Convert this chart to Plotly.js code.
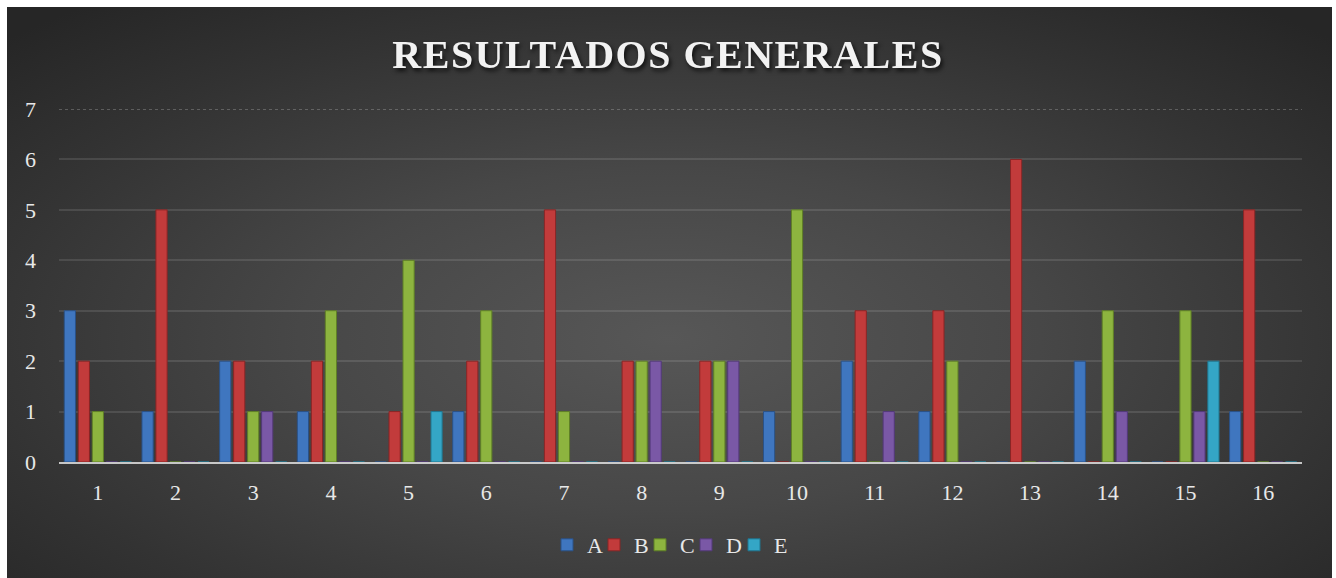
<!DOCTYPE html>
<html>
<head>
<meta charset="utf-8">
<script src="https://cdn.plot.ly/plotly-3.0.1.min.js"></script>
<style>
  html, body { margin: 0; padding: 0; background: #ffffff; }
  #wrap { position: relative; width: 1336px; height: 578px; overflow: hidden; }
  #bg { position: absolute; left: 7px; top: 7px; width: 1325px; height: 571px;
        background: radial-gradient(ellipse 70% 75% at 50% 58%, #575757 0%, #474747 40%, #333333 75%, #262626 100%); }
  #chart { position: absolute; left: 0; top: 0; width: 1336px; height: 578px; }
  #chart .gtitle { letter-spacing: 1.5px; filter: drop-shadow(2px 3px 2px rgba(0,0,0,0.7)); }
</style>
</head>
<body>
<div id="wrap"><div id="bg"></div><div id="chart"></div></div>
<script>
const categories = ["1","2","3","4","5","6","7","8","9","10","11","12","13","14","15","16"];
const seriesNames = ["A","B","C","D","E"];
const valuesA = [3,1,2,1,0,1,0,0,0,1,2,1,0,2,0,1];
const valuesB = [2,5,2,2,1,2,5,2,2,0,3,3,6,0,0,5];
const valuesC = [1,0,1,3,4,3,1,2,2,5,0,2,0,3,3,0];
const valuesD = [0,0,1,0,0,0,0,2,2,0,1,0,0,1,1,0];
const valuesE = [0,0,0,0,1,0,0,0,0,0,0,0,0,0,2,0];
const yTicks = [0,1,2,3,4,5,6,7];

const allValues = [valuesA, valuesB, valuesC, valuesD, valuesE];
const fills = ["#3f76bf", "#c23b3b", "#8db43f", "#7a58a6", "#34a6c6"];
const edges = ["#2a5288", "#8a2525", "#5f7f26", "#53397a", "#1f7690"];
const legendIds = ["legend", "legend2", "legend3", "legend4", "legend5"];
// left edge (px) of each legend entry box
const legendLeftPx = [547, 594, 640, 686, 734];

const traces = seriesNames.map((name, i) => ({
  type: "bar",
  name: name,
  x: categories,
  y: allValues[i],
  legend: legendIds[i],
  marker: { color: fills[i], line: { color: edges[i], width: 1 } },
  hoverinfo: "x+y+name"
}));

const serif = "Liberation Serif, DejaVu Serif, serif";
const W = 1336, H = 578;

const layout = {
  width: W,
  height: H,
  paper_bgcolor: "rgba(0,0,0,0)",
  plot_bgcolor: "rgba(0,0,0,0)",
  margin: { l: 59, r: 34, t: 109, b: 116 },
  title: {
    text: "<b>RESULTADOS GENERALES</b>",
    font: { family: serif, size: 40, color: "#f2f2f2" },
    x: 0.5, xanchor: "center", xref: "container",
    y: 1 - 54 / H, yref: "container", yanchor: "middle"
  },
  barmode: "group",
  bargap: 0.1,
  bargroupgap: 0.2,
  xaxis: {
    type: "category",
    tickvals: categories,
    ticktext: categories,
    tickfont: { family: serif, size: 22, color: "#e8e8e8" },
    ticklabelstandoff: 10,
    showgrid: false,
    showline: true,
    linecolor: "rgba(225,225,225,0.85)",
    linewidth: 2,
    ticks: "",
    zeroline: false,
    fixedrange: true
  },
  yaxis: {
    range: [0, 7],
    tickvals: yTicks,
    ticktext: yTicks.map(String),
    tickfont: { family: serif, size: 22, color: "#e8e8e8" },
    ticklabelstandoff: 22,
    showgrid: true,
    gridcolor: "rgba(255,255,255,0.11)",
    gridwidth: 2,
    zeroline: false,
    showline: false,
    ticks: "",
    fixedrange: true
  },
  shapes: [{
    type: "line", xref: "paper", x0: 0, x1: 1, yref: "y", y0: 7, y1: 7,
    line: { color: "rgba(200,200,200,0.6)", width: 1, dash: "dot" }
  }],
  showlegend: true
};

legendIds.forEach((id, i) => {
  layout[id] = {
    orientation: "h",
    x: legendLeftPx[i] / W, xanchor: "left", xref: "container",
    y: 1 - 545 / H, yref: "container", yanchor: "middle",
    font: { family: serif, size: 22, color: "#e8e8e8" },
    itemwidth: 30,
    bgcolor: "rgba(0,0,0,0)"
  };
});

Plotly.newPlot("chart", traces, layout, { displayModeBar: false, staticPlot: true });
</script>
</body>
</html>
